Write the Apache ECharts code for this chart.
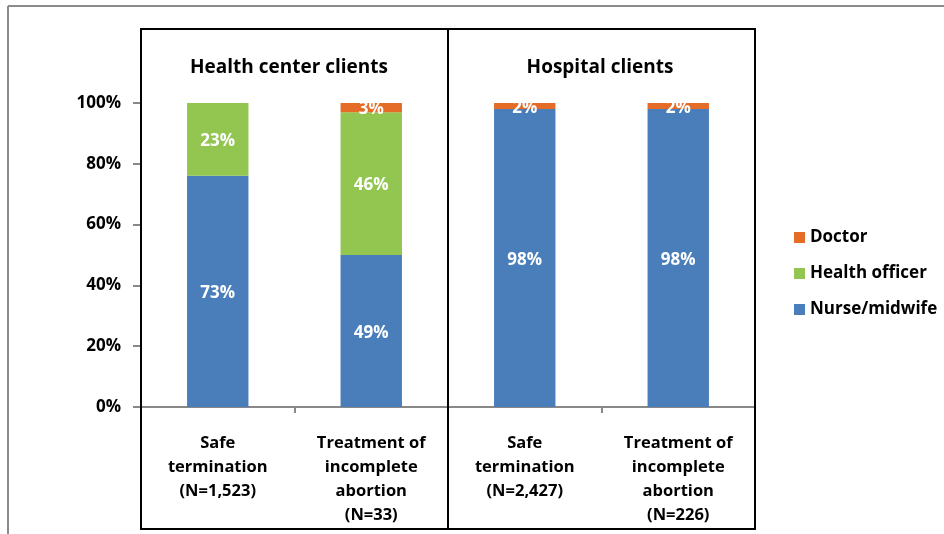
<!DOCTYPE html>
<html><head><meta charset="utf-8">
<script src="https://cdn.jsdelivr.net/npm/echarts@6/dist/echarts.min.js"></script>
<style>html,body{margin:0;padding:0;background:#fff}#c{width:944px;height:534px}</style>
</head><body><div id="c"></div>
<script>
const categories = ['Safe\ntermination\n(N=1,523)', 'Treatment of\nincomplete\nabortion\n(N=33)', 'Safe\ntermination\n(N=2,427)', 'Treatment of\nincomplete\nabortion\n(N=226)'];
const panelTitles = ['Health center clients', 'Hospital clients'];
const nurse = [73, 49, 98, 98];
const officer = [23, 46, 0, 0];
const doctor = [0, 3, 2, 2];
const yTicks = [0, 20, 40, 60, 80, 100];

const totals = categories.map((_, i) => nurse[i] + officer[i] + doctor[i]);
const share = arr => arr.map((v, i) => v / totals[i] * 100);
const FONT = '"Open Sans", Lato, sans-serif';
const GL = 141, GR = 755, GT = 103, GB = 407;

function mk(name, arr, color) {
  return {
    name, type: 'bar', stack: 's', barWidth: '40%',
    data: share(arr).map((v, i) => ({ value: v, raw: arr[i] })),
    itemStyle: { color },
    label: {
      show: true, position: 'inside', offset: [0, 2], color: '#fff', fontFamily: FONT, fontWeight: 'bold', fontSize: 17,
      formatter: p => p.data.raw ? p.data.raw + '%' : ''
    }
  };
}

const chart = echarts.init(document.getElementById('c'), null, { renderer: 'canvas' });
chart.setOption({
  animation: false,
  textStyle: { fontFamily: FONT },
  grid: { left: GL, right: 944 - GR, top: GT, bottom: 534 - GB },
  title: [
    { text: panelTitles[0], left: 289, top: 58, textAlign: 'center', padding: 0,
      textStyle: { fontFamily: FONT, fontWeight: 'bold', fontSize: 19, color: '#000' } },
    { text: panelTitles[1], left: 600, top: 58, textAlign: 'center', padding: 0,
      textStyle: { fontFamily: FONT, fontWeight: 'bold', fontSize: 19, color: '#000' } }
  ],
  legend: {
    orient: 'vertical', left: 789, top: 224, itemWidth: 11, itemHeight: 11, itemGap: 19,
    icon: 'rect', data: ['Doctor', 'Health officer', 'Nurse/midwife'],
    textStyle: { fontFamily: FONT, fontWeight: 'bold', fontSize: 17, color: '#000' }
  },
  xAxis: {
    type: 'category', data: categories,
    axisLine: { lineStyle: { color: '#888', width: 2 } },
    axisTick: { show: true, length: 6, lineStyle: { color: '#888', width: 2 } },
    axisLabel: { color: '#000', fontFamily: FONT, fontWeight: 'bold', fontSize: 16.5, lineHeight: 24, margin: 24, interval: 0 }
  },
  yAxis: {
    type: 'value', min: yTicks[0], max: yTicks[yTicks.length - 1], interval: yTicks[1] - yTicks[0],
    axisLine: { show: false },
    axisTick: { show: true, length: 8, lineStyle: { color: '#888', width: 2 } },
    splitLine: { show: false },
    axisLabel: { formatter: '{value}%', color: '#000', fontFamily: FONT, fontWeight: 'bold', fontSize: 17, margin: 20 }
  },
  graphic: [
    { type: 'line', shape: { x1: 8, y1: 6, x2: 944, y2: 6 }, style: { stroke: '#8c8c8c', lineWidth: 2 } },
    { type: 'line', shape: { x1: 8, y1: 6, x2: 8, y2: 534 }, style: { stroke: '#8c8c8c', lineWidth: 2 } },
    { type: 'rect', shape: { x: GL, y: 29, width: 448 - GL, height: 500 }, style: { fill: 'none', stroke: '#000', lineWidth: 2 }, z: 100 },
    { type: 'rect', shape: { x: 448, y: 29, width: GR - 448, height: 500 }, style: { fill: 'none', stroke: '#000', lineWidth: 2 }, z: 100 }
  ],
  series: [
    mk('Nurse/midwife', nurse, '#4A7EBB'),
    mk('Health officer', officer, '#92C650'),
    mk('Doctor', doctor, '#E46C26')
  ]
});
</script></body></html>
